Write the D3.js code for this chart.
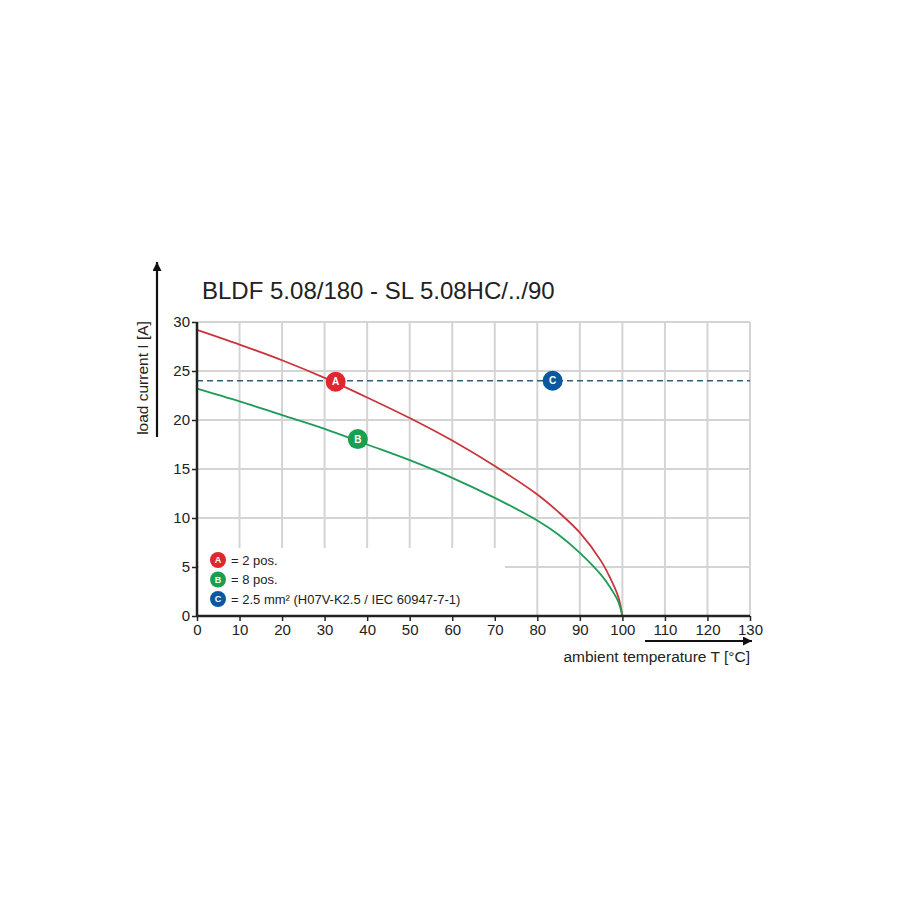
<!DOCTYPE html>
<html><head><meta charset="utf-8">
<script src="https://cdn.jsdelivr.net/npm/d3@7"></script>
<style>body{margin:0;background:#fff;} svg{display:block;} text{font-family:"Liberation Sans",Arial,sans-serif;}</style>
</head><body>
<svg id="c" width="900" height="900"></svg>
<script>
const title = "BLDF 5.08/180 - SL 5.08HC/../90";
const xTicks = [0,10,20,30,40,50,60,70,80,90,100,110,120,130];
const yTicks = [0,5,10,15,20,25,30];
const tempA = [0,10,20,30,40,50,60,70,80,85,90,95,97,99,100];
const currA = [29.2,27.7,26.1,24.3,22.3,20.2,17.9,15.3,12.4,10.6,8.5,5.6,4.0,2.0,0];
const tempB = [0,10,20,30,40,50,60,70,80,85,90,95,97,99,100];
const currB = [23.2,21.9,20.5,19.1,17.5,15.9,14.1,12.05,9.75,8.3,6.45,4.2,3.0,1.5,0];
const limitC = 24;
const markers = [{k:"A",t:32.6,i:23.9,c:"#e0262f"},{k:"B",t:37.8,i:18.05,c:"#17a04f"},{k:"C",t:83.6,i:24.0,c:"#0b58a0"}];
const legend = [{k:"A",txt:"= 2 pos.",c:"#e0262f"},{k:"B",txt:"= 8 pos.",c:"#17a04f"},{k:"C",txt:"= 2.5 mm² (H07V-K2.5 / IEC 60947-7-1)",c:"#0b58a0"}];

const svg = d3.select("#c");
const x = d3.scaleLinear().domain([0,130]).range([197,750]);
const y = d3.scaleLinear().domain([0,30]).range([616,322]);

svg.append("text").attr("x",202).attr("y",299).attr("font-size",24).attr("fill","#222").text(title);

const g = svg.append("g");
g.selectAll(".vg").data(xTicks.slice(1)).join("line")
 .attr("x1",d=>x(d)).attr("x2",d=>x(d)).attr("y1",y(30)).attr("y2",y(0))
 .attr("stroke","#d4d4d4").attr("stroke-width",2);
g.selectAll(".hg").data(yTicks.slice(1)).join("line")
 .attr("x1",x(0)).attr("x2",x(130)).attr("y1",d=>y(d)).attr("y2",d=>y(d))
 .attr("stroke","#d4d4d4").attr("stroke-width",2);
g.append("rect").attr("x",199).attr("y",548).attr("width",306).attr("height",67).attr("fill","#fff");

g.append("line").attr("x1",x(0)).attr("x2",x(130)).attr("y1",y(limitC)).attr("y2",y(limitC))
 .attr("stroke","#2f5f80").attr("stroke-width",1.6).attr("stroke-dasharray","6,4");

const line = d3.line().x(d=>x(d[0])).y(d=>y(d[1])).curve(d3.curveCatmullRom.alpha(0.5));
g.append("path").attr("d",line(tempA.map((t,i)=>[t,currA[i]]))).attr("fill","none").attr("stroke","#c9353d").attr("stroke-width",1.8);
g.append("path").attr("d",line(tempB.map((t,i)=>[t,currB[i]]))).attr("fill","none").attr("stroke","#1d9c58").attr("stroke-width",1.8);

const xa = svg.append("g").attr("transform",`translate(0,${y(0)})`)
 .call(d3.axisBottom(x).tickValues(xTicks).tickSize(5).tickPadding(3).tickFormat(d3.format("d")));
const ya = svg.append("g").attr("transform",`translate(${x(0)},0)`)
 .call(d3.axisLeft(y).tickValues(yTicks).tickSize(5).tickPadding(2).tickFormat(d3.format("d")));
[xa,ya].forEach(a=>{
  a.select(".domain").attr("stroke","#222").attr("stroke-width",2.5);
  a.selectAll(".tick line").attr("stroke","#222").attr("stroke-width",1.5);
  a.selectAll(".tick text").attr("font-size",15).attr("fill","#222").attr("font-family","'Liberation Sans',Arial,sans-serif");
});
xa.select(".domain").attr("d",`M${x(0)},0H${x(130)}`);
ya.select(".domain").attr("d",`M0,${y(0)}V${y(30)}`);

const mk = svg.selectAll(".mk").data(markers).join("g").attr("transform",d=>`translate(${x(d.t)},${y(d.i)})`);
mk.append("circle").attr("r",10).attr("fill",d=>d.c);
mk.append("text").attr("text-anchor","middle").attr("dy","0.35em").attr("font-size",10).attr("font-weight","bold").attr("fill","#fff").text(d=>d.k);

const lg = svg.selectAll(".lg").data(legend).join("g").attr("transform",(d,i)=>`translate(218,${560+i*19.5})`);
lg.append("circle").attr("r",8).attr("fill",d=>d.c);
lg.append("text").attr("text-anchor","middle").attr("dy","0.35em").attr("font-size",9).attr("font-weight","bold").attr("fill","#fff").text(d=>d.k);
lg.append("text").attr("x",13).attr("dy","0.35em").attr("font-size",13).attr("fill","#222").text(d=>d.txt);

svg.append("defs").append("marker").attr("id","ar").attr("viewBox","0 0 10 10").attr("refX",10).attr("refY",5)
 .attr("orient","auto").attr("markerUnits","userSpaceOnUse")
 .attr("markerWidth",14).attr("markerHeight",9)
 .append("path").attr("d","M0,0L10,5L0,10z").attr("fill","#111");
svg.append("line").attr("x1",157).attr("y1",437).attr("x2",157).attr("y2",262).attr("stroke","#111").attr("stroke-width",2.2).attr("marker-end","url(#ar)");
svg.append("text").attr("transform","translate(148,378) rotate(-90)").attr("text-anchor","middle").attr("font-size",15.5).attr("fill","#222").text("load current I [A]");
svg.append("line").attr("x1",645).attr("y1",641).attr("x2",752).attr("y2",641).attr("stroke","#111").attr("stroke-width",2.2).attr("marker-end","url(#ar)");
svg.append("text").attr("x",750).attr("y",662).attr("text-anchor","end").attr("font-size",15.5).attr("fill","#222").text("ambient temperature T [°C]");
</script>
</body></html>
